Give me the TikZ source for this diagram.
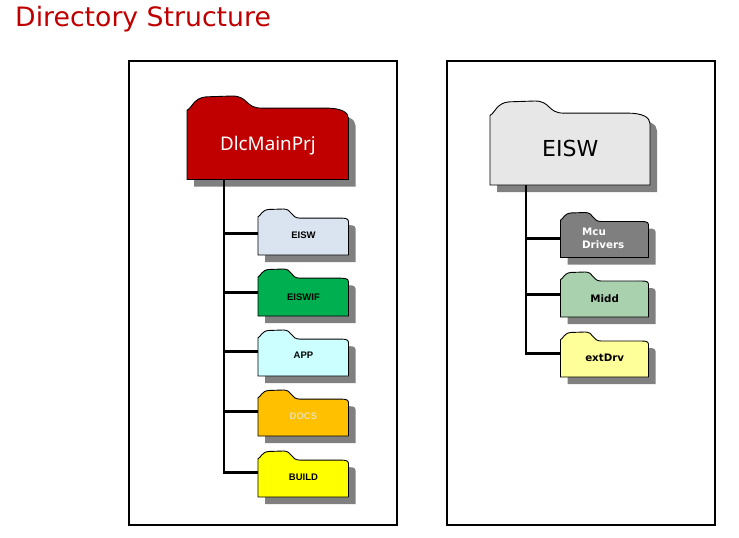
\documentclass[tikz,border=0pt]{standalone}
\usepackage{fontspec}
\setmainfont{DejaVu Sans}
\newfontfamily\nsans{Noto Sans}
\newfontfamily\lsans{Liberation Sans}
\definecolor{titlered}{HTML}{C00000}
\definecolor{shadowgray}{HTML}{808080}
\definecolor{fldblue}{HTML}{DAE3F0}
\definecolor{fldgreen}{HTML}{00B050}
\definecolor{fldcyan}{HTML}{CCFFFF}
\definecolor{fldorange}{HTML}{FFC000}
\definecolor{fldyellow}{HTML}{FFFF00}
\definecolor{fldgray}{HTML}{E7E7E7}
\definecolor{flddark}{HTML}{7F7F7F}
\definecolor{fldsage}{HTML}{A9D1AE}
\definecolor{fldpale}{HTML}{FFFF99}
\definecolor{docstext}{HTML}{E8E0B0}
\tikzset{
  x=1pt,y=-1pt,
  panel/.style={draw=black,line width=1.4pt,fill=white},
  link/.style={draw=black,line width=2.8pt},
  folderline/.style={draw=black,line width=.9pt},
  foldertext/.style={inner sep=0pt,align=left},
  smalllabel/.style={font=\lsans\bfseries\fontsize{9.5}{11}\selectfont},
  widelabel/.style={font=\bfseries\fontsize{10.3}{13}\selectfont},
}
\newcommand{\foldershape}[4]{%
  (#1,#2+.17*#4)
  .. controls (#1+.03*#3,#2+.15*#4) and (#1+.04*#3,#2+.02*#4) .. (#1+.12*#3,#2+.01*#4)
  -- (#1+.28*#3,#2)
  .. controls (#1+.38*#3,#2) and (#1+.36*#3,#2+5.4+.08*#4) .. (#1+.46*#3,#2+5.4+.08*#4)
  -- (#1+.86*#3,#2+5.4+.08*#4)
  .. controls (#1+.95*#3,#2+5.4+.08*#4) and (#1+#3,#2+.19*#4) .. (#1+#3,#2+.27*#4)
  -- (#1+#3,#2+#4) -- (#1,#2+#4) -- cycle}
% \folder{name}{x}{y}{w}{h}{fill}{text colour}{label style}{text}
\newcommand{\folder}[9]{%
  \fill[shadowgray] \foldershape{#2+7}{#3+7}{#4}{#5};
  \path[folderline,fill=#6] \foldershape{#2}{#3}{#4}{#5};
  \node[foldertext,minimum width=#4 pt,minimum height=.88*#5 pt,anchor=south west,text=#7,#8] (#1) at (#2,#3+#5) {#9};
}
\newcommand{\dn}[2]{\raisebox{-#1pt}[\height][\depth]{#2}}
\begin{document}
\begin{tikzpicture}
\useasboundingbox (0,0) rectangle (739,538);
\node[anchor=base west,inner sep=0pt,text=titlered,font=\fontsize{26.7}{28}\selectfont] (title) at (15,26) {Directory Structure};
\path[panel] (129,61) rectangle (397,525);
\path[panel] (447,61) rectangle (715,525);

\folder{main}{187}{96}{161.5}{83.5}{titlered}{white}{font=\nsans\fontsize{18.8}{22}\selectfont}{\dn{3}{DlcMainPrj}}
\folder{eisw}{258}{209}{90.5}{46}{fldblue}{black}{smalllabel,minimum height=42pt}{\dn{1}{EISW}}
\folder{eiswif}{258}{269}{90.5}{47}{fldgreen}{black}{smalllabel,minimum height=46pt}{\dn{4}{EISWIF}}
\folder{app}{258}{330}{90.5}{46}{fldcyan}{black}{smalllabel,minimum height=48pt}{\dn{3}{APP}}
\folder{docs}{258}{390}{90.5}{46}{fldorange}{docstext}{smalllabel,minimum height=48pt}{\dn{4}{DOCS}}
\folder{build}{258}{451}{90.5}{46}{fldyellow}{black}{smalllabel,minimum height=48pt}{\dn{4}{BUILD}}

\folder{sub}{490}{101}{160}{84}{fldgray}{black}{font=\fontsize{22}{26}\selectfont}{\dn{1}{EISW}}
\folder{mcu}{560.5}{212.5}{88}{45}{flddark}{white}{widelabel,minimum height=38pt}{\hspace*{-3pt}Mcu\\\hspace*{-3pt}Drivers}
\folder{midd}{560.5}{272}{88}{45}{fldsage}{black}{widelabel,minimum height=44pt}{\dn{4}{Midd}}
\folder{ext}{560.5}{332}{88}{45}{fldpale}{black}{widelabel,minimum height=46pt}{\dn{4}{extDrv}}

\coordinate (ltrunk) at ([xshift=37pt]main.south west);
\coordinate (rtrunk) at ([xshift=36pt]sub.south west);
\foreach \n in {eisw,eiswif,app,docs,build} \draw[link] (ltrunk) |- (\n.west);
\foreach \n in {mcu,midd,ext} \draw[link] (rtrunk) |- (\n.west);
\end{tikzpicture}
\end{document}
